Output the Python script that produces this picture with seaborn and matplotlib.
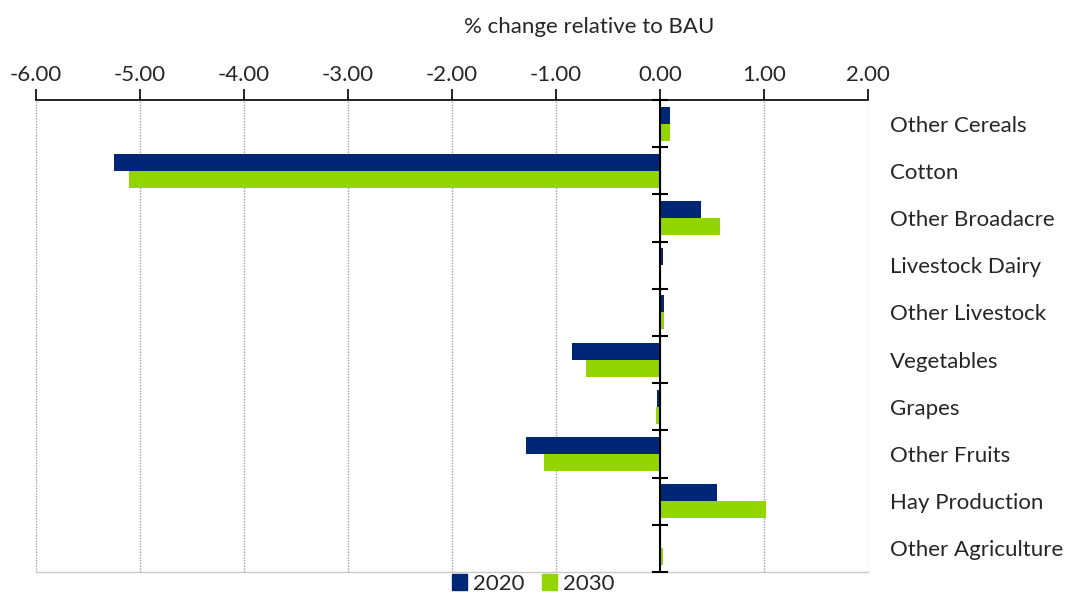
import numpy as np
import pandas as pd
import matplotlib.pyplot as plt
import seaborn as sns

categories = ["Other Cereals", "Cotton", "Other Broadacre", "Livestock Dairy",
              "Other Livestock", "Vegetables", "Grapes", "Other Fruits",
              "Hay Production", "Other Agriculture"]
vals_2020 = [0.10, -5.25, 0.39, 0.03, 0.04, -0.85, -0.03, -1.29, 0.545, 0.01]
vals_2030 = [0.10, -5.11, 0.58, 0.01, 0.035, -0.71, -0.04, -1.12, 1.02, 0.025]
years = ["2020", "2030"]
xticks = [-6, -5, -4, -3, -2, -1, 0, 1, 2]

df = pd.DataFrame({
    "category": categories * 2,
    "value": vals_2020 + vals_2030,
    "year": [years[0]] * len(categories) + [years[1]] * len(categories),
})

sns.set_style("white")
plt.rcParams["font.family"] = ["Lato", "DejaVu Sans"]

fig = plt.figure(figsize=(10.68, 5.94), dpi=100)
ax = fig.add_axes([36 / 1068, 1 - 572 / 594, 832 / 1068, 472 / 594])

sns.barplot(data=df, x="value", y="category", hue="year", orient="h",
            palette=["#002776", "#93D500"], width=0.72, saturation=1,
            linewidth=0, edgecolor="none", ax=ax, legend=True)

ax.set_xlim(-6, 2)
ax.set_ylim(len(categories) - 0.5, -0.5)
ax.set_xticks(xticks)
ax.set_xticklabels([f"{t:.2f}" for t in xticks], fontsize=16)
ax.xaxis.tick_top()
ax.tick_params(axis="x", direction="out", length=8, width=1.2, color="black", pad=3)
ax.grid(axis="x", color="#a0a0a0", linestyle=(0, (1, 1)), linewidth=1)
ax.set_axisbelow(True)

# category labels on the right
ax.yaxis.tick_right()
ax.tick_params(axis="y", length=0, pad=16, labelsize=16)
ax.set_ylabel("")
ax.set_xlabel("")

for s in ["left", "right"]:
    ax.spines[s].set_visible(False)
ax.spines["top"].set_color("black")
ax.spines["top"].set_linewidth(1.2)
ax.spines["bottom"].set_color("#c8c8c8")
ax.spines["bottom"].set_linewidth(1)

# zero axis with category ticks
ax.axvline(0, color="black", linewidth=1.5, zorder=5)
bounds = np.arange(len(categories) + 1) - 0.5
ax.hlines(bounds, -0.08, 0.08, color="black", linewidth=1.5, zorder=5, clip_on=False)

fig.text(589 / 1068, 1 - 27 / 594, "% change relative to BAU", ha="center", va="center", fontsize=16)

ax.legend_.remove()
handles = [plt.Rectangle((0, 0), 1, 1, color=c) for c in ["#002776", "#93D500"]]
fig.legend(handles, years, loc="center", bbox_to_anchor=(533 / 1068, 1 - 584 / 594),
           ncol=2, frameon=False, fontsize=16, handlelength=0.7, handleheight=0.7,
           handletextpad=0.25, columnspacing=0.8, borderpad=0)

fig.savefig("out.png", dpi=100)
